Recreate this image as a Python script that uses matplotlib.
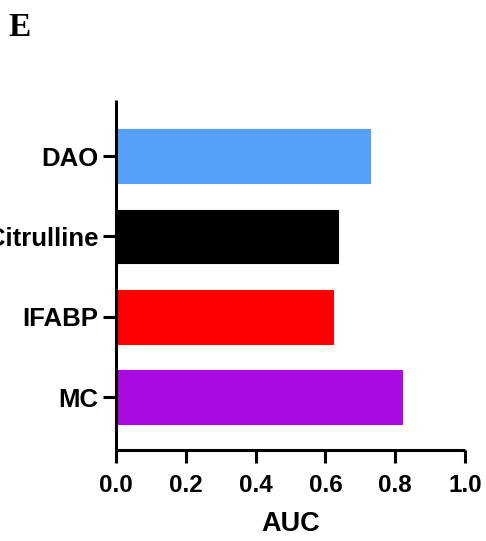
import matplotlib
matplotlib.use("Agg")
import matplotlib.pyplot as plt

# values
categories = ["MC", "IFABP", "Citrulline", "DAO"]
auc_values = [0.820, 0.623, 0.635, 0.728]
bar_colors = ["#A90BE0", "#FF0000", "#000000", "#56A0FB"]
x_ticks = [0.0, 0.2, 0.4, 0.6, 0.8, 1.0]

plt.rcParams["font.family"] = ["Liberation Sans", "DejaVu Sans"]

fig = plt.figure(figsize=(4.86, 5.41), dpi=100)
ax = fig.add_axes([0.2387, 0.1682, 0.7181, 0.6470])

ax.barh(range(len(categories)), auc_values, height=0.67, color=bar_colors,
        edgecolor=bar_colors, linewidth=0.8)

ax.set_xlim(0, 1.0)
ax.set_ylim(-0.66, 3.70)
ax.set_xticks(x_ticks)
ax.set_xticklabels([f"{t:.1f}" for t in x_ticks])
ax.set_yticks(range(len(categories)))
ax.set_yticklabels(categories)

for side in ["top", "right"]:
    ax.spines[side].set_visible(False)
for side in ["left", "bottom"]:
    ax.spines[side].set_linewidth(2.2)
    ax.spines[side].set_capstyle("butt")

ax.tick_params(axis="both", width=2.2, length=9.5)
ax.tick_params(axis="y", labelsize=18.5, pad=3)
ax.tick_params(axis="x", labelsize=17.5, pad=8)
for lab in ax.get_xticklabels() + ax.get_yticklabels():
    lab.set_fontweight("bold")

ax.set_xlabel("AUC", fontsize=19.5, fontweight="bold", labelpad=10)

fig.text(0.018, 0.9495, "E", fontsize=24, fontweight="bold",
         family="Liberation Serif", va="center", ha="left")

fig.savefig("out.png", dpi=100)
